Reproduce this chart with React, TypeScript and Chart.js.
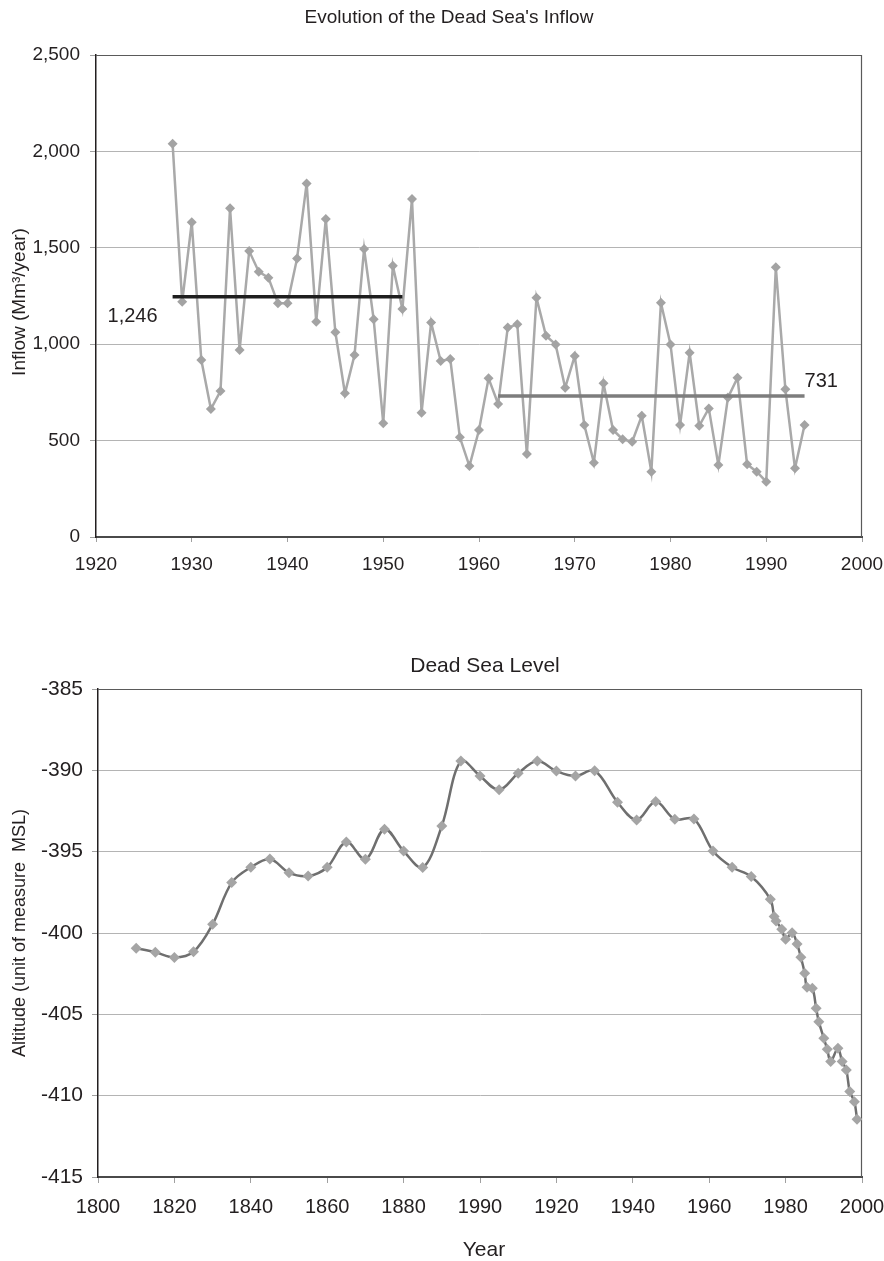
import React, { useEffect, useRef } from 'react';
import { Chart, registerables } from 'chart.js';

Chart.register(...registerables);

// ---------- Data: Dead Sea inflow ----------
const inflowYears = [
  1928, 1929, 1930, 1931, 1932, 1933, 1934, 1935, 1936, 1937, 1938, 1939, 1940, 1941, 1942, 1943, 1944,
  1945, 1946, 1947, 1948, 1949, 1950, 1951, 1952, 1953, 1954, 1955, 1956, 1957, 1958, 1959, 1960, 1961,
  1962, 1963, 1964, 1965, 1966, 1967, 1968, 1969, 1970, 1971, 1972, 1973, 1974, 1975, 1976, 1977, 1978,
  1979, 1980, 1981, 1982, 1983, 1984, 1985, 1986, 1987, 1988, 1989, 1990, 1991, 1992, 1993, 1994,
];
const inflowValues = [
  2040, 1220, 1632, 918, 664, 757, 1705, 970, 1483, 1376, 1345, 1212, 1212, 1445, 1834, 1117, 1649,
  1062, 745, 944, 1494, 1129, 590, 1407, 1183, 1753, 645, 1112, 913, 923, 517, 368, 555, 823,
  690, 1086, 1103, 430, 1241, 1044, 999, 774, 939, 581, 385, 797, 555, 507, 494, 629, 339,
  1215, 999, 581, 956, 577, 667, 373, 723, 826, 377, 339, 287, 1399, 766, 356, 581,
];
const earlyMean = 1246;
const earlyMeanYears = [1928, 1952];
const lateMean = 731;
const lateMeanYears = [1962, 1994];
const earlyMeanLabel = '1,246';
const lateMeanLabel = '731';

// ---------- Data: Dead Sea level ----------
const levelYears = [
  1810, 1815, 1820, 1825, 1830, 1835, 1840, 1845, 1850, 1855, 1860, 1865, 1870, 1875, 1880, 1885,
  1890, 1895, 1900, 1905, 1910, 1915, 1920, 1925, 1930, 1936, 1941, 1946, 1951, 1956, 1961, 1966,
  1971, 1976, 1977, 1977.5, 1979, 1980, 1981.7, 1983, 1984, 1985, 1985.6, 1987, 1988, 1988.7, 1990,
  1990.9, 1991.8, 1993.7, 1994.8, 1995.9, 1996.8, 1998, 1998.7,
];
const levelValues = [
  -400.94, -401.18, -401.5, -401.15, -399.46, -396.9, -395.96, -395.45, -396.29, -396.5, -395.96,
  -394.4, -395.47, -393.62, -394.96, -395.98, -393.42, -389.43, -390.35, -391.2, -390.18, -389.43,
  -390.04, -390.35, -390.02, -391.96, -393.05, -391.92, -393.01, -392.99, -394.96, -395.96, -396.53,
  -397.93, -398.99, -399.26, -399.77, -400.38, -399.98, -400.67, -401.49, -402.47, -403.33, -403.4,
  -404.63, -405.45, -406.47, -407.15, -407.9, -407.08, -407.9, -408.42, -409.75, -410.37, -411.45,
];
// Tick labels exactly as printed on the original (including its "1990")
const levelXTickLabels = ['1800', '1820', '1840', '1860', '1880', '1990', '1920', '1940', '1960', '1980', '2000'];

// ---------- Shared styling ----------
const FONT = '"Liberation Sans", Arial, sans-serif';
const TEXT = '#231f20';
const GRID = '#b4b4b4';
const W = 884;

type TextItem = { text: string; x: number; y: number; size: number; rotate?: boolean };

const textPlugin = (id: string, items: (chart: any) => TextItem[]) => ({
  id,
  afterDraw(chart: any) {
    const ctx = chart.ctx;
    ctx.save();
    ctx.fillStyle = TEXT;
    ctx.textAlign = 'center';
    ctx.textBaseline = 'middle';
    for (const it of items(chart)) {
      ctx.font = `${it.size}px ${FONT}`;
      if (it.rotate) {
        ctx.save();
        ctx.translate(it.x, it.y);
        ctx.rotate(-Math.PI / 2);
        ctx.fillText(it.text, 0, 0);
        ctx.restore();
      } else {
        ctx.fillText(it.text, it.x, it.y);
      }
    }
    ctx.restore();
  },
});

const framePlugin = {
  id: 'frame',
  beforeDatasetsDraw(chart: any) {
    const { ctx, chartArea: a } = chart;
    ctx.save();
    ctx.strokeStyle = '#5a5a5a';
    ctx.lineWidth = 1.2;
    ctx.beginPath();
    ctx.moveTo(a.left, a.top + 0.5);
    ctx.lineTo(a.right - 0.5, a.top + 0.5);
    ctx.lineTo(a.right - 0.5, a.bottom);
    ctx.stroke();
    ctx.restore();
  },
};

const noSidePadding = (height: number) => (s: any) => {
  s.height = height;
  s.paddingLeft = 0;
  s.paddingRight = 0;
};

function InflowChart() {
  const ref = useRef<HTMLCanvasElement>(null);
  useEffect(() => {
    const meanLabels = {
      id: 'meanLabels',
      afterDatasetsDraw(chart: any) {
        const { ctx, scales } = chart;
        ctx.save();
        ctx.fillStyle = TEXT;
        ctx.font = `20px ${FONT}`;
        ctx.textBaseline = 'middle';
        ctx.textAlign = 'right';
        ctx.fillText(earlyMeanLabel, scales.x.getPixelForValue(earlyMeanYears[0]) - 15, scales.y.getPixelForValue(earlyMean) + 20);
        ctx.textAlign = 'left';
        ctx.fillText(lateMeanLabel, scales.x.getPixelForValue(lateMeanYears[1]), scales.y.getPixelForValue(lateMean) - 15);
        ctx.restore();
      },
    };
    const chart = new Chart(ref.current!, {
      type: 'line',
      data: {
        datasets: [
          {
            label: 'Inflow',
            data: inflowYears.map((y, i) => ({ x: y, y: inflowValues[i] })),
            borderColor: '#a9a9a9',
            borderWidth: 2.5,
            pointStyle: 'rectRot',
            pointRadius: 5,
            pointBackgroundColor: '#a3a3a3',
            pointBorderColor: '#a3a3a3',
            pointBorderWidth: 0,
            tension: 0,
            order: 2,
          },
          {
            label: 'Mean 1928-1952',
            data: earlyMeanYears.map((y) => ({ x: y, y: earlyMean })),
            borderColor: '#1e1e1e',
            borderWidth: 3.5,
            pointRadius: 0,
            order: 1,
          },
          {
            label: 'Mean 1962-1994',
            data: lateMeanYears.map((y) => ({ x: y, y: lateMean })),
            borderColor: '#7d7d7d',
            borderWidth: 3.5,
            pointRadius: 0,
            order: 1,
          },
        ],
      },
      options: {
        animation: false,
        responsive: false,
        maintainAspectRatio: false,
        layout: { padding: { left: 0, right: 22, top: 55, bottom: 0 } },
        plugins: { legend: { display: false }, tooltip: { enabled: false }, title: { display: false } },
        scales: {
          x: {
            type: 'linear',
            min: 1920,
            max: 2000,
            afterFit: noSidePadding(63),
            ticks: {
              stepSize: 10,
              callback: (v: any) => String(v),
              font: { family: FONT, size: 19 },
              color: TEXT,
              padding: 11,
              maxRotation: 0,
            },
            grid: { drawOnChartArea: false, drawTicks: true, tickLength: 5, tickColor: '#a0a0a0' },
            border: { color: '#4a4a4a', width: 2 },
          },
          y: {
            min: 0,
            max: 2500,
            afterFit: (s: any) => { s.width = 96; },
            ticks: {
              stepSize: 500,
              callback: (v: any) => Number(v).toLocaleString('en-US'),
              font: { family: FONT, size: 19 },
              color: TEXT,
              padding: 10,
            },
            grid: { color: GRID, lineWidth: 1, tickLength: 6, tickColor: '#a0a0a0' },
            border: { color: '#231f20', width: 1.5 },
          },
        },
      },
      plugins: [
        framePlugin,
        meanLabels,
        textPlugin('inflowText', (c: any) => [
          { text: "Evolution of the Dead Sea's Inflow", x: 449, y: 18, size: 19 },
          { text: 'Inflow (Mm³/year)', x: 20, y: (c.chartArea.top + c.chartArea.bottom) / 2 + 6, size: 19, rotate: true },
        ]),
      ],
    });
    return () => chart.destroy();
  }, []);
  return <canvas ref={ref} width={W} height={600} style={{ display: 'block', width: W, height: 600 }} />;
}

function LevelChart() {
  const ref = useRef<HTMLCanvasElement>(null);
  useEffect(() => {
    const chart = new Chart(ref.current!, {
      type: 'line',
      data: {
        datasets: [
          {
            label: 'Dead Sea Level',
            data: levelYears.map((y, i) => ({ x: y, y: levelValues[i] })),
            borderColor: '#6f6f6f',
            borderWidth: 2.5,
            pointStyle: 'rectRot',
            pointRadius: 5.5,
            pointBackgroundColor: '#a5a5a5',
            pointBorderColor: '#a5a5a5',
            pointBorderWidth: 0,
            tension: 0.35,
          },
        ],
      },
      options: {
        animation: false,
        responsive: false,
        maintainAspectRatio: false,
        layout: { padding: { left: 0, right: 22, top: 89, bottom: 0 } },
        plugins: { legend: { display: false }, tooltip: { enabled: false }, title: { display: false } },
        scales: {
          x: {
            type: 'linear',
            min: 1800,
            max: 2000,
            afterFit: noSidePadding(84),
            ticks: {
              stepSize: 20,
              callback: (v: any) => levelXTickLabels[Math.round((Number(v) - 1800) / 20)] ?? '',
              font: { family: FONT, size: 20 },
              color: TEXT,
              padding: 12,
              maxRotation: 0,
            },
            grid: { drawOnChartArea: false, drawTicks: true, tickLength: 6, tickColor: '#a0a0a0' },
            border: { color: '#4a4a4a', width: 2 },
          },
          y: {
            min: -415,
            max: -385,
            afterFit: (s: any) => { s.width = 98; },
            ticks: {
              stepSize: 5,
              callback: (v: any) => String(v),
              font: { family: FONT, size: 21 },
              color: TEXT,
              padding: 9,
            },
            grid: { color: GRID, lineWidth: 1, tickLength: 6, tickColor: '#a0a0a0' },
            border: { color: '#231f20', width: 1.5 },
          },
        },
      },
      plugins: [
        framePlugin,
        textPlugin('levelText', (c: any) => [
          { text: 'Dead Sea Level', x: 485, y: 66, size: 21 },
          { text: 'Year', x: 484, y: 650, size: 21 },
          { text: 'Altitude (unit of measure  MSL)', x: 20, y: (c.chartArea.top + c.chartArea.bottom) / 2, size: 18, rotate: true },
        ]),
      ],
    });
    return () => chart.destroy();
  }, []);
  return <canvas ref={ref} width={W} height={661} style={{ display: 'block', width: W, height: 661 }} />;
}

export default function App() {
  return (
    <div style={{ position: 'absolute', left: 0, top: 0, width: W, height: 1261, background: '#fff' }}>
      <InflowChart />
      <LevelChart />
    </div>
  );
}
